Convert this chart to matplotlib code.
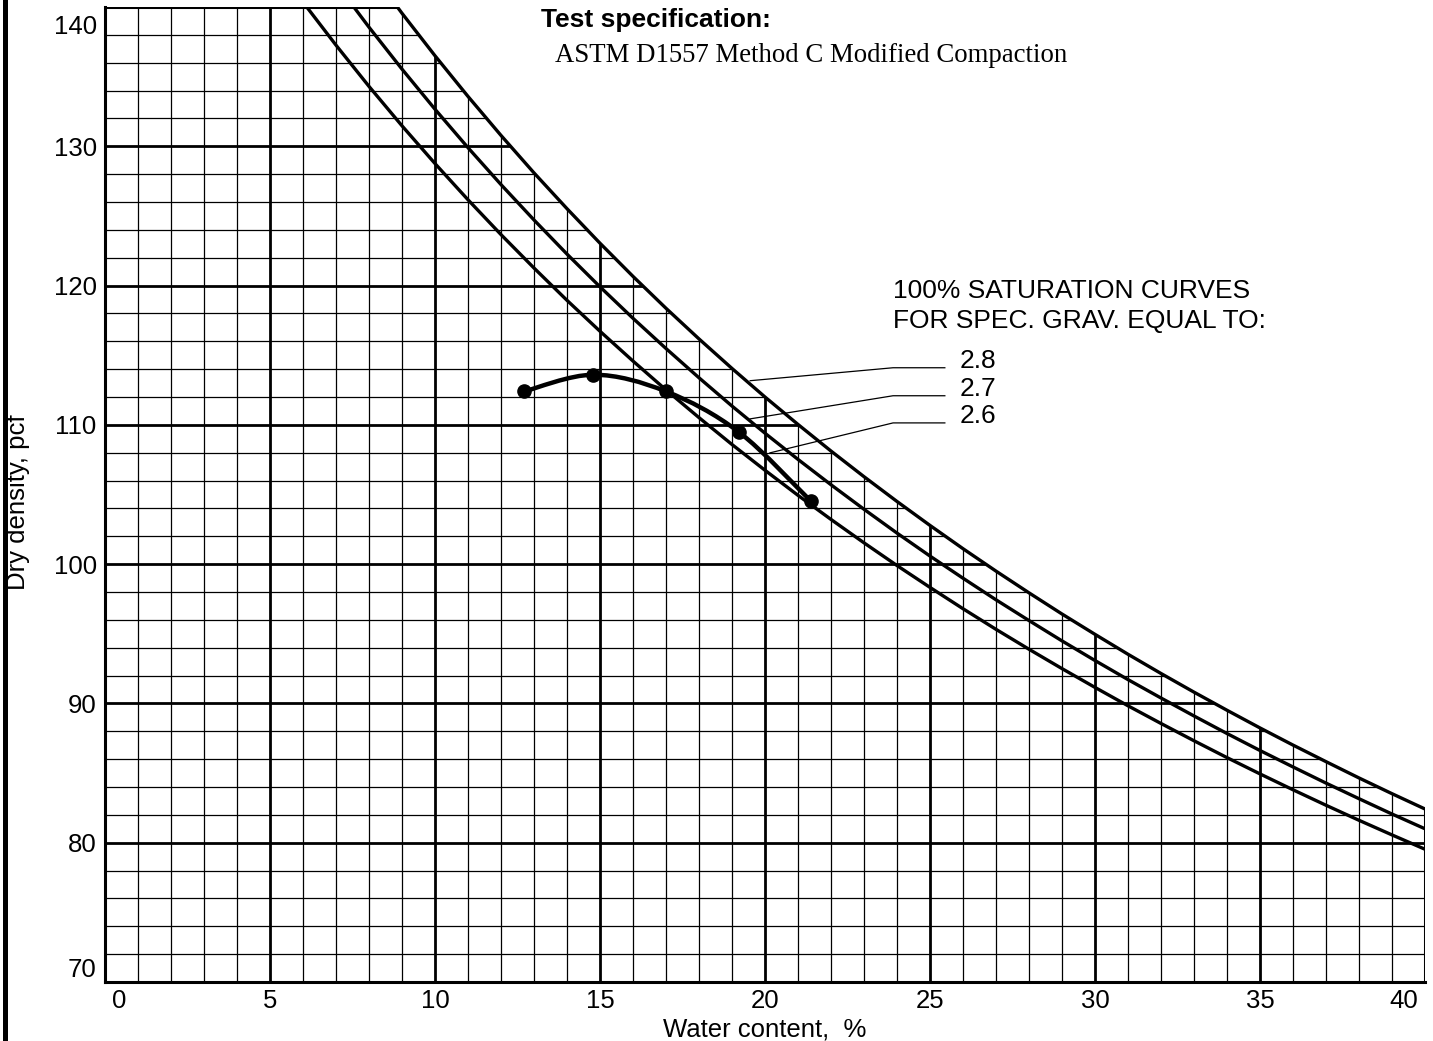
import matplotlib

matplotlib.use("Agg")
import matplotlib.pyplot as plt
import matplotlib.transforms as mtransforms
import numpy as np
from matplotlib.lines import Line2D
from matplotlib.patches import PathPatch
from matplotlib.path import Path

# compaction test points
water = [12.7, 14.8, 17.0, 19.2, 21.4]
density = [112.4, 113.6, 112.4, 109.5, 104.5]

# 100% saturation curves
sat_water_28 = list(range(8, 41))
sat_dens_28 = [142.75, 139.55, 136.50, 133.58, 130.78, 128.09, 125.52, 123.04,
               120.66, 118.37, 116.17, 114.05, 112.00, 110.03, 108.12, 106.28,
               104.50, 102.78, 101.11, 99.50, 97.94, 96.42, 94.96, 93.53,
               92.15, 90.81, 89.51, 88.24, 87.01, 85.82, 84.65, 83.52, 82.42]
sat_water_27 = list(range(7, 41))
sat_dens_27 = [141.70, 138.55, 135.54, 132.66, 129.90, 127.25, 124.71, 122.26,
               119.91, 117.65, 115.48, 113.38, 111.35, 109.40, 107.52, 105.70,
               103.94, 102.23, 100.58, 98.99, 97.44, 95.95, 94.49, 93.08,
               91.71, 90.39, 89.10, 87.84, 86.62, 85.44, 84.28, 83.16, 82.06,
               81.00]
sat_water_26 = list(range(6, 41))
sat_dens_26 = [140.35, 137.26, 134.30, 131.47, 128.76, 126.16, 123.66, 121.26,
               118.94, 116.72, 114.58, 112.51, 110.52, 108.59, 106.74, 104.94,
               103.21, 101.53, 99.90, 98.33, 96.80, 95.32, 93.89, 92.50, 91.15,
               89.83, 88.56, 87.32, 86.11, 84.94, 83.80, 82.69, 81.61, 80.56,
               79.53]

spec_grav = ["2.8", "2.7", "2.6"]
# leader line anchors: (point on curve, knee), then a flat run to the label
leader_start = [(19.55, 113.17), (19.55, 110.43), (20.15, 107.99)]
leader_knee = [(23.88, 114.10), (23.88, 112.09), (23.88, 110.14)]
leader_end_x = 25.45
label_y = [114.55, 112.6, 110.65]

x_ticks = list(range(0, 41, 5))
y_ticks = list(range(70, 141, 10))
x_minor = [x for x in range(0, 41) if x % 5]
y_minor = [y for y in range(70, 141, 2) if y % 10]

plt.rcParams["font.family"] = ["Liberation Sans", "DejaVu Sans"]

W, H = 1433, 1041
fig = plt.figure(figsize=(W / 100, H / 100), dpi=100)
ax = fig.add_axes([105 / W, 1 - 982 / H, 1320 / W, 975 / H])

ax.set_xlim(0, 40)
ax.set_ylim(70, 140)
ax.set_xticks(x_ticks)
ax.set_yticks(y_ticks)
ax.set_xticklabels([str(t) for t in x_ticks])
ax.set_yticklabels([str(t) for t in y_ticks])
ax.tick_params(which="both", length=0, labelsize=18.5)
ax.tick_params(axis="x", pad=5)
ax.tick_params(axis="y", pad=6)
ax.grid(False)

# the printed grid only covers the area under the Gs = 2.8 curve
clip_verts = ([(-1, 60), (-1, 150), (sat_water_28[0], 150)]
              + list(zip(sat_water_28, sat_dens_28))
              + [(41, sat_dens_28[-1] - 0.4), (41, 60), (-1, 60)])
clip_path = Path(clip_verts)

grid = [
    ax.vlines(x_minor, 70, 140, color="black", lw=0.9, zorder=1),
    ax.hlines(y_minor, 0, 40, color="black", lw=0.9, zorder=1),
    ax.vlines(x_ticks, 70, 140, color="black", lw=2.0, zorder=1),
    ax.hlines(y_ticks, 0, 40, color="black", lw=2.0, zorder=1),
]
for coll in grid:
    coll.set_clip_path(clip_path, ax.transData)

for name, sp in ax.spines.items():
    sp.set_linewidth(2.2)
    if name in ("top", "right"):
        sp.set_clip_on(True)
        sp.set_clip_box(None)
        sp.set_clip_path(clip_path, ax.transData)

# keep end tick labels inside the frame
xlabels = ax.get_xticklabels()
xlabels[0].set_ha("left")
xlabels[0].set_transform(xlabels[0].get_transform()
                         + mtransforms.ScaledTranslation(0.07, 0, fig.dpi_scale_trans))
xlabels[-1].set_ha("right")
xlabels[-1].set_transform(xlabels[-1].get_transform()
                          + mtransforms.ScaledTranslation(-0.07, 0, fig.dpi_scale_trans))
ylabels = ax.get_yticklabels()
ylabels[0].set_va("bottom")
ylabels[-1].set_va("top")
ylabels[-1].set_transform(ylabels[-1].get_transform()
                          + mtransforms.ScaledTranslation(0, -0.08, fig.dpi_scale_trans))

ax.set_xlabel("Water content,  %", fontsize=18.5, labelpad=3)
ax.set_ylabel("Dry density, pcf", fontsize=18.5, va="center")
ax.yaxis.set_label_coords((18 - 105) / 1320, 0.492)

for xs, ys in [(sat_water_28, sat_dens_28), (sat_water_27, sat_dens_27),
               (sat_water_26, sat_dens_26)]:
    ax.plot(xs, ys, color="black", lw=2.4, solid_capstyle="butt", zorder=3)

# smooth compaction curve through the points (bezier segments)
pts = np.column_stack([water, density])
n = len(pts)
verts = [pts[0]]
codes = [Path.MOVETO]
for i in range(n - 1):
    p0 = pts[max(i - 1, 0)]
    p1 = pts[i]
    p2 = pts[i + 1]
    p3 = pts[min(i + 2, n - 1)]
    verts += [p1 + (p2 - p0) / 6, p2 - (p3 - p1) / 6, p2]
    codes += [Path.CURVE4] * 3
ax.add_patch(PathPatch(Path(verts, codes), fill=False, lw=3.2,
                       edgecolor="black", zorder=4))
ax.plot(water, density, "o", color="black", ms=9.5, zorder=5)

for label, start, knee, ly in zip(spec_grav, leader_start, leader_knee, label_y):
    ax.plot([start[0], knee[0], leader_end_x], [start[1], knee[1], knee[1]],
            color="black", lw=0.9, zorder=3)
    ax.text(25.9, ly, label, fontsize=19, ha="left", va="center")

ax.text(23.88, 119.6, "100% SATURATION CURVES", fontsize=19,
        ha="left", va="center")
ax.text(23.88, 117.45, "FOR SPEC. GRAV. EQUAL TO:", fontsize=19,
        ha="left", va="center")

fig.text(541 / W, 1 - 20 / H, "Test specification:", fontsize=19,
         fontweight="bold", ha="left", va="center")
fig.text(555 / W, 1 - 56 / H, "ASTM D1557 Method C Modified Compaction",
         fontsize=19.3, family=["Liberation Serif", "DejaVu Serif"],
         ha="left", va="center")

# page border on the left
fig.add_artist(Line2D([4.5 / W, 4.5 / W], [0, 1], color="black", lw=3.6,
                      transform=fig.transFigure))

fig.savefig("out.png", dpi=100)
